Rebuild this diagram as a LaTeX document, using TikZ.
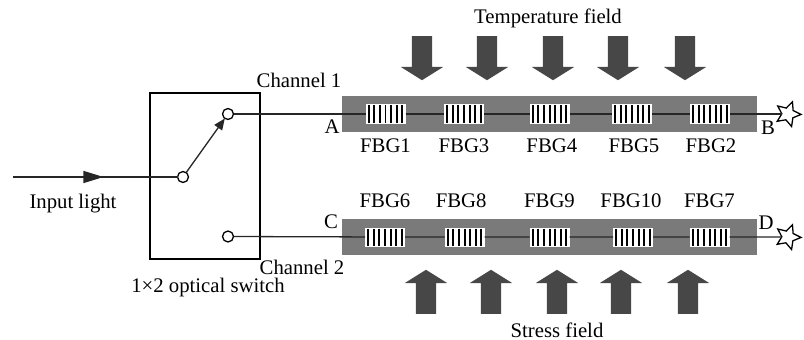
\documentclass[tikz,border=0pt]{standalone}
\usepackage{fontspec}
\setmainfont{Liberation Serif}
\usepackage{tikz}
\usetikzlibrary{arrows.meta, positioning, calc, shapes.geometric, shapes.arrows, decorations.markings}

\begin{document}
\begin{tikzpicture}[
  x=0.03cm, y=-0.03cm,
  node distance=0.45cm and 1.2cm,
  every node/.style={inner sep=0pt, outer sep=0pt, font=\fontsize{17.7}{20}\selectfont},
  wire/.style={line width=1.1pt, black!85},
  bar/.style={fill=black!52, minimum width=12.45cm, minimum height=1.08cm},
  fbg/.style={fill=white, minimum width=1.2cm, minimum height=0.57cm, path picture={
      \foreach \k in {-3,...,3} {
        \draw[line width=1.7pt] ($(path picture bounding box.north)+(\k*5.6,1)$) -- ($(path picture bounding box.south)+(\k*5.6,-1)$);
      }}},
  contact/.style={circle, draw, line width=1.1pt, fill=white, minimum size=0.33cm},
  load/.style={single arrow, fill=black!72, inner ysep=0.3cm, minimum width=1.26cm, minimum height=1.32cm,
    single arrow head extend=0.33cm, single arrow tip angle=116, single arrow head indent=0pt},
  fiberend/.style={star, star points=5, star point ratio=2.1, draw, line width=1.1pt, fill=white, minimum size=0.78cm},
  ]

  % Background rectangle fixes the margins
  \useasboundingbox (0,0) rectangle (804,340);

  % Optical switch
  \node[draw, line width=1.1pt, minimum width=3.3cm, minimum height=4.98cm] (switchbox) at (205,176) {};
  \node[contact] (common) at (183,177) {};
  \node[contact] (contactA) at (228,114) {};
  \node[contact] (contactB) at (228,236.5) {};
  \coordinate (inlet) at (13,177);

  % Sensing bars
  \node[bar] (barA) at (549.5,114) {};
  \node[bar] (barB) at (549.5,237) {};

  % Gratings of channel 1
  \node[fbg] (fbg1) at (385.5,114) {};
  \node[fbg, right=1.155cm of fbg1] (fbg3) {};
  \node[fbg, right=1.365cm of fbg3] (fbg4) {};
  \node[fbg, right=1.275cm of fbg4] (fbg5) {};
  \node[fbg, right=1.14cm of fbg5] (fbg2) {};

  % Gratings of channel 2
  \node[fbg] (fbg6) at (385,237) {};
  \node[fbg, right=1.185cm of fbg6] (fbg8) {};
  \node[fbg, right=1.35cm of fbg8] (fbg9) {};
  \node[fbg, right=1.305cm of fbg9] (fbg10) {};
  \node[fbg, right=1.095cm of fbg10] (fbg7) {};

  % Fibre ends
  \node[fiberend, shape border rotate=-20] (starA) at (788,114) {};
  \node[fiberend, shape border rotate=-20] (starB) at (788,237) {};

  % Wires
  \draw[wire, postaction={decorate}, decoration={markings, mark=at position 0.55 with {\arrow{Triangle[length=6mm, width=3.6mm]}}}] (inlet) -- (common);
  \draw[wire, -{Triangle[length=3.4mm, width=2.8mm]}] (common) -- (contactA);
  \draw[wire] (contactA) -- (fbg1) -- (fbg3) -- (fbg4) -- (fbg5) -- (fbg2) -- (starA);
  \draw[wire] (contactB) -- (fbg6) -- (fbg8) -- (fbg9) -- (fbg10) -- (fbg7) -- (starB);

  % Temperature arrows
  \node[load, rotate=-90] (tempa) at (422,55) {};
  \node[load, rotate=-90] (tempb) at (487,55) {};
  \node[load, rotate=-90] (tempc) at (553,55) {};
  \node[load, rotate=-90] (tempd) at (618,55) {};
  \node[load, rotate=-90] (tempe) at (685,55) {};

  % Stress arrows
  \node[load, rotate=90] (stressa) at (426,295) {};
  \node[load, rotate=90] (stressb) at (491,295) {};
  \node[load, rotate=90] (stressc) at (557,295) {};
  \node[load, rotate=90] (stressd) at (621,295) {};
  \node[load, rotate=90] (stresse) at (688,295) {};

  % Grating labels
  \node[below=of fbg1] (lfbg1) {FBG1};
  \node[below=of fbg3] (lfbg3) {FBG3};
  \node[below=of fbg4, xshift=0.07cm] (lfbg4) {FBG4};
  \node[below=of fbg5, xshift=0.06cm] (lfbg5) {FBG5};
  \node[below=of fbg2, xshift=0.03cm] (lfbg2) {FBG2};
  \node[above=0.6cm of fbg6] (lfbg6) {FBG6};
  \node[above=0.6cm of fbg8, xshift=-0.1cm] (lfbg8) {FBG8};
  \node[above=0.6cm of fbg9] (lfbg9) {FBG9};
  \node[above=0.6cm of fbg10, xshift=-0.06cm] (lfbg10) {FBG10};
  \node[above=0.6cm of fbg7] (lfbg7) {FBG7};

  % Other labels
  \node (temperature) at (548,18) {Temperature field};
  \node (stress) at (557,330) {Stress field};
  \node (input) at (73,204) {Input light};
  \node (switchname) at (208,288) {1×2 optical switch};
  \node (channelone) at (299,80) {Channel 1};
  \node (channeltwo) at (302,267) {Channel 2};
  \node (pointA) at (332,127) {A};
  \node (pointB) at (768,128) {B};
  \node (pointC) at (331,222) {C};
  \node (pointD) at (766,223) {D};

\end{tikzpicture}
\end{document}
